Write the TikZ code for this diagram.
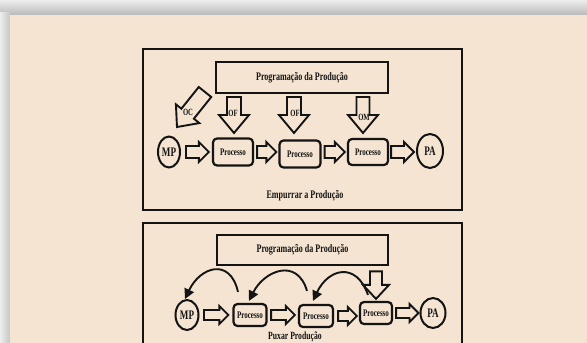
\documentclass[tikz,border=0pt]{standalone}
\usepackage{fontspec}
\setmainfont{Liberation Serif}[FakeStretch=0.7]
\usetikzlibrary{calc,arrows.meta,shapes.geometric}
\definecolor{panel}{RGB}{244,228,209}
\definecolor{ink}{RGB}{20,20,20}
\tikzset{
  lab/.style={font=\bfseries\fontsize{#1}{#1}\selectfont, text=ink, inner sep=0pt},
  frame/.style={draw=ink, line width=1.6pt},
  progbox/.style={draw=ink, line width=2.6pt, minimum width=172pt, minimum height=31pt, lab=11.5},
  proc/.style={draw=ink, line width=2.2pt, rounded corners=4pt, lab=10},
  term/.style={ellipse, draw=ink, line width=2pt, inner sep=0pt, lab=13},
  blockarrow/.style={draw=ink, line width=1.9pt, line join=miter, fill=panel},
  pullarrow/.style={draw=ink, line width=1.9pt, -{Triangle[length=10pt,width=10pt]}},
}
% block arrow: from, to, shaft half width, head half width, head length
\newcommand\barrow[5]{%
  \path ($(#2)!#5!(#1)$) coordinate (bh);
  \draw[blockarrow] ($(#1)!#3!90:(#2)$) -- ($(bh)!#3!-90:(#1)$) -- ($(bh)!#4!-90:(#1)$)
    -- (#2) -- ($(bh)!#4!90:(#1)$) -- ($(bh)!#3!90:(#1)$) -- ($(#1)!#3!-90:(#2)$) -- cycle;}
\begin{document}
\begin{tikzpicture}[x=1pt,y=-1pt]
\useasboundingbox (0,0) rectangle (587,343);
% shadow and panel
\fill[gray!16] (0,0) rectangle (587,343);
\shade[top color=gray!14, bottom color=gray!55] (0,0) rectangle (587,15);
\shade[left color=gray!14, right color=gray!45] (0,12) rectangle (10,343);
\fill[panel] (10,15) rectangle (587,343);

% ---------- top panel: push ----------
\draw[frame] (143,49) rectangle (462,210);
\node[progbox] (prog1) at (302,77.5) {Programação da Produção};
\node[term, minimum width=22pt, minimum height=31pt] (mp1) at (169,152) {MP};
\node[proc, minimum width=40pt, minimum height=27pt] (p1a) at (233,152) {Processo};
\node[proc, minimum width=41pt, minimum height=27pt] (p1b) at (300,154) {Processo};
\node[proc, minimum width=40pt, minimum height=26pt] (p1c) at (368,152) {Processo};
\node[term, minimum width=26pt, minimum height=34pt] (pa1) at (430,151) {PA};

\coordinate (t1s) at ($(mp1.east)+(5,0)$);  \coordinate (t1e) at ($(mp1.east -| p1a.west)+(-3,0)$);
\coordinate (t2s) at ($(p1a.east)+(3,0)$);  \coordinate (t2e) at ($(p1a.east -| p1b.west)+(-2,0)$);
\coordinate (t3s) at ($(p1b.east)+(3,-2)$); \coordinate (t3e) at ($(p1b.east -| p1c.west)+(-2,-2)$);
\coordinate (t4s) at ($(p1c.east)+(2,0)$);  \coordinate (t4e) at ($(p1c.east -| pa1.west)+(-2,0)$);
\barrow{t1s}{t1e}{6pt}{10pt}{10pt}
\barrow{t2s}{t2e}{6pt}{10pt}{10pt}
\barrow{t3s}{t3e}{6pt}{10pt}{10pt}
\barrow{t4s}{t4e}{6pt}{10pt}{10pt}

\coordinate (of1s) at (234,97);  \coordinate (of1e) at (234,133);
\coordinate (of2s) at (294,97);  \coordinate (of2e) at (294,133);
\coordinate (oms)  at (363,97);  \coordinate (ome)  at (363,133);
\coordinate (ocs)  at (205,92);  \coordinate (oce)  at (177,127);
\barrow{of1s}{of1e}{7pt}{15pt}{18pt}
\barrow{of2s}{of2e}{7pt}{15pt}{18pt}
\barrow{oms}{ome}{6.5pt}{15pt}{18pt}
\barrow{ocs}{oce}{8pt}{15pt}{17pt}
\node[lab=9.5] (lof1) at (233,113) {OF};
\node[lab=9.5] (lof2) at (295,113) {OF};
\node[lab=9.5] (lom)  at (364,117) {OM};
\node[lab=9.5] (loc)  at (188,112) {OC};
\node[lab=11.5] (push) at (305,196) {Empurrar a Produção};

% ---------- bottom panel: pull ----------
\draw[frame] (143,350) -- (143,223) -- (462,223) -- (462,350);
\node[progbox, minimum width=171pt, minimum height=30pt] (prog2) at (302.5,250) {Programação da Produção};
\node[term, minimum width=23pt, minimum height=30pt] (mp2) at (187,315) {MP};
\node[proc, minimum width=33pt, minimum height=22pt] (p2a) at (250,315) {Processo};
\node[proc, minimum width=34pt, minimum height=22pt] (p2b) at (316,316) {Processo};
\node[proc, minimum width=32pt, minimum height=22pt] (p2c) at (376,313) {Processo};
\node[term, minimum width=25pt, minimum height=30pt] (pa2) at (433,313) {PA};

\coordinate (b1s) at ($(mp2.east)+(4.5,0)$); \coordinate (b1e) at ($(mp2.east -| p2a.west)+(-4,0)$);
\coordinate (b2s) at ($(p2a.east)+(3.5,0)$); \coordinate (b2e) at ($(p2a.east -| p2b.west)+(-3,0)$);
\coordinate (b3s) at ($(p2b.east)+(4,0)$);   \coordinate (b3e) at ($(p2b.east -| p2c.west)+(-2,0)$);
\coordinate (b4s) at ($(p2c.east)+(3,0)$);   \coordinate (b4e) at ($(p2c.east -| pa2.west)+(-1,0)$);
\barrow{b1s}{b1e}{5pt}{9pt}{9pt}
\barrow{b2s}{b2e}{5pt}{9pt}{9pt}
\barrow{b3s}{b3e}{5pt}{9pt}{9pt}
\barrow{b4s}{b4e}{5pt}{9pt}{9pt}

\coordinate (ds) at ($(prog2.south -| p2c.north)+(0,5)$);
\coordinate (de) at ($(p2c.north)+(0,-2)$);
\barrow{ds}{de}{6pt}{13pt}{14pt}

\coordinate (c1s) at ($(p2a.north)+(-12,-11)$);
\coordinate (c2s) at ($(p2b.north)+(-9,-13)$);
\coordinate (c3s) at ($(p2c.north)+(-8,-6)$);
\draw[pullarrow] (c1s) .. controls +(-8,-35) and +(15,-32) .. ($(mp2.north)+(-2,0)$);
\draw[pullarrow] (c2s) .. controls +(-10,-34) and +(15,-30) .. ($(p2a.north)+(-1,-2)$);
\draw[pullarrow] (c3s) .. controls +(-12,-34) and +(15,-32) .. ($(p2b.north)+(-3,-3)$);
\node[lab=11] (pull) at (295,337) {Puxar Produção};
\end{tikzpicture}
\end{document}
